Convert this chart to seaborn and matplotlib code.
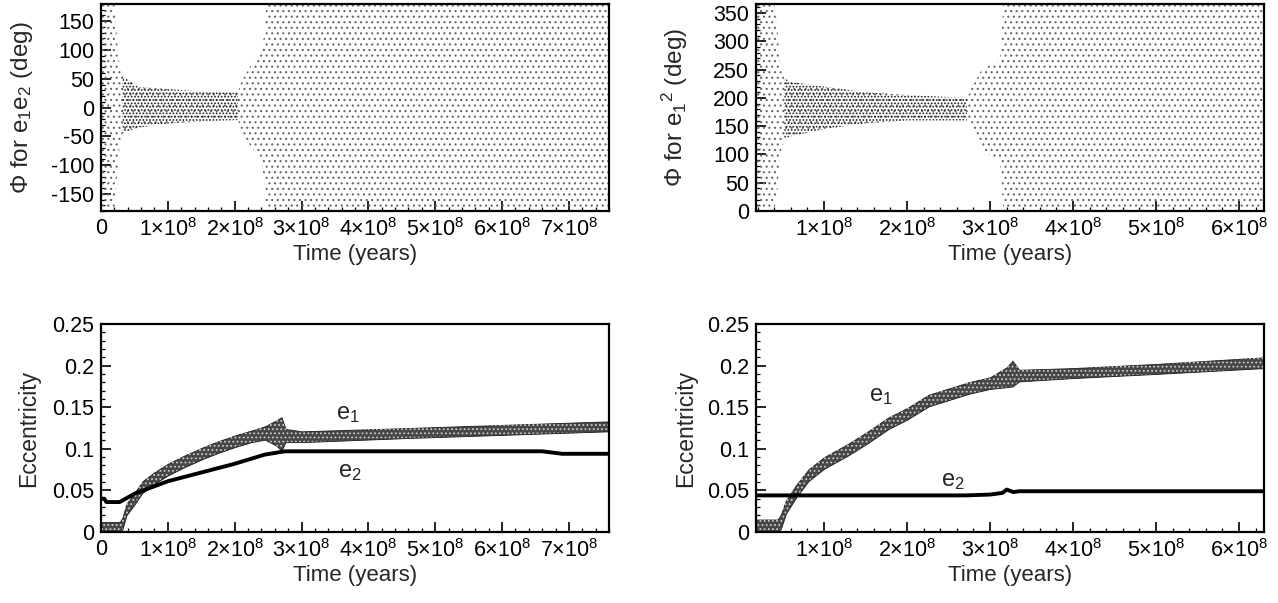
import matplotlib
matplotlib.use('Agg')
import matplotlib.pyplot as plt
import seaborn as sns
from matplotlib.ticker import MultipleLocator, FuncFormatter

# --- resonant angle, e1*e2 (left, top): envelope of the scattered points
phi12_t = [0, 0.2e8, 0.24e8, 0.28e8, 0.32e8, 0.56e8, 1.0e8, 1.5e8, 2.05e8,
           2.1e8, 2.25e8, 2.38e8, 2.45e8, 2.47e8, 7.6e8]
phi12_lo = [-180, -180, -120, -65, -45, -35, -28, -24, -22, -40, -70, -85, -130, -180, -180]
phi12_hi = [180, 180, 120, 70, 55, 36, 32, 28, 26, 45, 75, 90, 130, 180, 180]
phi12_core = slice(4, 9)   # libration band (dense)

# --- resonant angle, e1^2 (right, top)
phi11_t = [0.18e8, 0.4e8, 0.44e8, 0.47e8, 0.52e8, 0.6e8, 1.0e8, 1.5e8, 2.0e8, 2.72e8,
           2.78e8, 2.9e8, 3.05e8, 3.12e8, 3.16e8, 6.3e8]
phi11_lo = [0, 0, 40, 100, 128, 132, 145, 155, 160, 160, 145, 110, 92, 90, 0, 0]
phi11_hi = [366, 366, 320, 260, 235, 228, 220, 210, 205, 200, 218, 250, 262, 265, 366, 366]
phi11_core = slice(4, 10)

# --- eccentricities, left run (e1 given as lower / upper edge of its band)
e1L_t = [0, 0.28e8, 0.32e8, 0.38e8, 0.5e8, 0.62e8, 0.8e8, 1.0e8, 1.25e8, 1.53e8, 1.75e8,
         2.0e8, 2.25e8, 2.45e8, 2.62e8, 2.7e8, 2.76e8, 3.0e8, 4.6e8, 7.6e8]
e1L_lo = [0, 0, 0.003, 0.02, 0.033, 0.047, 0.058, 0.068, 0.078, 0.088, 0.095,
          0.102, 0.108, 0.111, 0.104, 0.098, 0.108, 0.108, 0.113, 0.121]
e1L_hi = [0.012, 0.012, 0.017, 0.034, 0.047, 0.061, 0.072, 0.082, 0.092, 0.102, 0.109,
          0.116, 0.122, 0.127, 0.134, 0.138, 0.124, 0.121, 0.125, 0.133]
e2L_t = [0, 0.05e8, 0.08e8, 0.28e8, 0.5e8, 1.0e8, 2.0e8, 2.45e8, 2.75e8, 6.6e8, 6.9e8, 7.6e8]
e2L = [0.04, 0.04, 0.036, 0.036, 0.046, 0.061, 0.082, 0.093, 0.097, 0.097, 0.094, 0.094]

# --- eccentricities, right run
e1R_t = [0.18e8, 0.44e8, 0.48e8, 0.54e8, 0.66e8, 0.81e8, 1.0e8, 1.29e8, 1.53e8, 1.78e8,
         2.0e8, 2.26e8, 2.74e8, 3.0e8, 3.2e8, 3.27e8, 3.35e8, 4.0e8, 5.0e8, 6.3e8]
e1R_lo = [0, 0, 0.004, 0.022, 0.041, 0.061, 0.076, 0.092, 0.107, 0.124,
          0.135, 0.151, 0.166, 0.172, 0.174, 0.175, 0.181, 0.185, 0.19, 0.197]
e1R_hi = [0.015, 0.015, 0.021, 0.038, 0.056, 0.075, 0.09, 0.106, 0.121, 0.138,
          0.149, 0.165, 0.18, 0.186, 0.198, 0.206, 0.195, 0.197, 0.202, 0.21]
e2R_t = [0.18e8, 2.7e8, 3.0e8, 3.15e8, 3.2e8, 3.28e8, 3.35e8, 6.3e8]
e2R = [0.044, 0.044, 0.045, 0.047, 0.051, 0.048, 0.049, 0.049]

sns.set_theme(style='ticks')
plt.rcParams['font.family'] = ['Liberation Sans', 'DejaVu Sans']
plt.rcParams['mathtext.fontset'] = 'custom'
plt.rcParams['mathtext.rm'] = 'Liberation Sans'
plt.rcParams['mathtext.it'] = 'Liberation Sans'
plt.rcParams['mathtext.sf'] = 'Liberation Sans'
plt.rcParams['axes.unicode_minus'] = False
plt.rcParams['hatch.linewidth'] = 0.8

FS_TICK = 15.5
FS_LAB = 16


def time_fmt(v, pos):
    if abs(v) < 1:
        return '0'
    return r'$\mathregular{%d{\times}10^{8}}$' % round(v / 1e8)


def style_axis(ax, xlim, ylim, ymaj, ymin):
    ax.set_xlim(*xlim)
    ax.set_ylim(*ylim)
    ax.xaxis.set_major_locator(MultipleLocator(1e8))
    ax.xaxis.set_minor_locator(MultipleLocator(2e7))
    ax.yaxis.set_major_locator(MultipleLocator(ymaj))
    ax.yaxis.set_minor_locator(MultipleLocator(ymin))
    ax.xaxis.set_major_formatter(FuncFormatter(time_fmt))
    ax.yaxis.set_major_formatter(FuncFormatter(lambda v, p: f'{v:g}'))
    ax.tick_params(which='both', direction='in', top=False, right=False,
                   labelsize=FS_TICK, colors='black')
    ax.tick_params(which='major', length=7, width=1.2, pad=5)
    ax.tick_params(which='minor', length=3, width=0.9)
    for s in ax.spines.values():
        s.set_linewidth(1.6)
        s.set_color('black')
    ax.set_xlabel('Time (years)', fontsize=FS_LAB, labelpad=2)
    ax.grid(False)


def stipple(ax, t, lo, hi, hatch, shade):
    ax.fill_between(t, lo, hi, facecolor='none', edgecolor=shade,
                    hatch=hatch, linewidth=0)


def ecc_band(ax, t, lo, hi):
    ax.fill_between(t, lo, hi, facecolor='0.28', edgecolor='0.1', linewidth=0.6)
    ax.fill_between(t, lo, hi, facecolor='none', edgecolor='0.8',
                    hatch='....', linewidth=0)


fig = plt.figure(figsize=(12.78, 6.03), dpi=100)
W, H = 1278, 603
axA = fig.add_axes([101 / W, 1 - 211 / H, 508 / W, 207 / H])
axB = fig.add_axes([756 / W, 1 - 211 / H, 508 / W, 207 / H])
axC = fig.add_axes([101 / W, 1 - 532 / H, 508 / W, 208 / H])
axD = fig.add_axes([756 / W, 1 - 532 / H, 508 / W, 208 / H])

# top left
stipple(axA, phi12_t, phi12_lo, phi12_hi, '...', '0.4')
stipple(axA, phi12_t[phi12_core], phi12_lo[phi12_core], phi12_hi[phi12_core], '.....', '0.1')
style_axis(axA, (0, 7.6e8), (-180, 180), 50, 10)
axA.set_ylabel(r'$\Phi$ for e$_1$e$_2$ (deg)', fontsize=FS_LAB + 1.5)
axA.yaxis.set_label_coords(-0.13, 0.5)

# top right
stipple(axB, phi11_t, phi11_lo, phi11_hi, '...', '0.4')
stipple(axB, phi11_t[phi11_core], phi11_lo[phi11_core], phi11_hi[phi11_core], '.....', '0.1')
style_axis(axB, (0.18e8, 6.3e8), (0, 366), 50, 10)
axB.set_ylabel(r'$\Phi$ for e$_1{}^2$ (deg)', fontsize=FS_LAB + 1.5)
axB.yaxis.set_label_coords(-0.13, 0.5)

# bottom left
ecc_band(axC, e1L_t, e1L_lo, e1L_hi)
sns.lineplot(x=e2L_t, y=e2L, ax=axC, color='black', linewidth=2.8)
style_axis(axC, (0, 7.6e8), (0, 0.25), 0.05, 0.01)
axC.set_ylabel('Eccentricity', fontsize=FS_LAB + 0.5)
axC.yaxis.set_label_coords(-0.12, 0.5)
axC.text(3.69e8, 0.1415, r'e$_1$', fontsize=FS_LAB + 1, ha='center', va='center')
axC.text(3.72e8, 0.072, r'e$_2$', fontsize=FS_LAB + 1, ha='center', va='center')

# bottom right
ecc_band(axD, e1R_t, e1R_lo, e1R_hi)
sns.lineplot(x=e2R_t, y=e2R, ax=axD, color='black', linewidth=2.8)
style_axis(axD, (0.18e8, 6.3e8), (0, 0.25), 0.05, 0.01)
axD.set_ylabel('Eccentricity', fontsize=FS_LAB + 0.5)
axD.yaxis.set_label_coords(-0.115, 0.5)
axD.text(1.68e8, 0.164, r'e$_1$', fontsize=FS_LAB + 1, ha='center', va='center')
axD.text(2.55e8, 0.061, r'e$_2$', fontsize=FS_LAB + 1, ha='center', va='center')

fig.savefig('out.png', dpi=100)
